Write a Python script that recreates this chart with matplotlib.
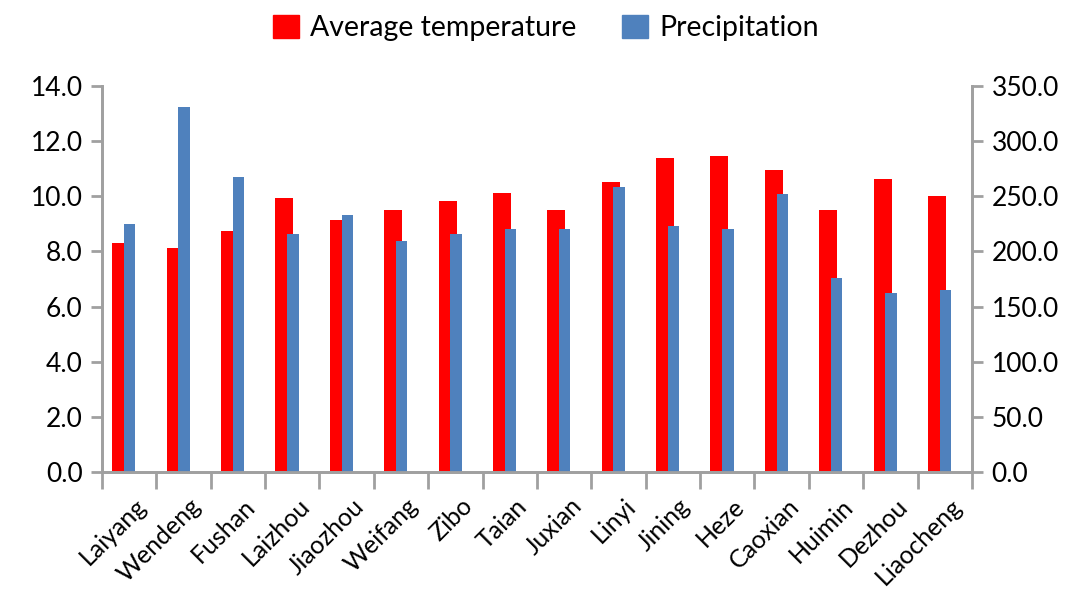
import numpy as np
import matplotlib
matplotlib.use("Agg")
import matplotlib.pyplot as plt
from matplotlib.patches import Patch
from matplotlib.ticker import FormatStrFormatter, FixedLocator

# stations and values
stations = ["Laiyang", "Wendeng", "Fushan", "Laizhou", "Jiaozhou", "Weifang",
            "Zibo", "Taian", "Juxian", "Linyi", "Jining", "Heze", "Caoxian",
            "Huimin", "Dezhou", "Liaocheng"]
avg_temp = [8.31, 8.14, 8.73, 9.93, 9.15, 9.49, 9.84, 10.11, 9.49, 10.53,
            11.38, 11.46, 10.95, 9.49, 10.62, 10.02]
precip = [224.6, 331.2, 267.2, 216.1, 233.3, 209.4, 216.1, 220.0, 220.0,
          258.7, 222.7, 220.0, 252.4, 175.6, 162.6, 164.7]

plt.rcParams['font.family'] = ['Lato', 'DejaVu Sans']
RED = "#FF0000"
BLUE = "#4F81BD"
GRAY = "#A0A0A0"
FS = 19

fig = plt.figure(figsize=(10.77, 6.15), dpi=100)
ax = fig.add_axes([0.0947, 0.2325, 0.8078, 0.6275])
ax2 = ax.twinx()

x = np.arange(len(stations))
ax.bar(x - 0.145, avg_temp, width=0.33, color=RED, zorder=2)
ax2.bar(x + 0.01, precip, width=0.21, color=BLUE, zorder=2)

ax.set_xlim(-0.5, len(stations) - 0.5)
ax.set_ylim(0, 14)
ax2.set_ylim(0, 350)
ax.set_yticks(np.arange(0, 14.1, 2))
ax2.set_yticks(np.arange(0, 351, 50))
ax.yaxis.set_major_formatter(FormatStrFormatter('%.1f'))
ax2.yaxis.set_major_formatter(FormatStrFormatter('%.1f'))

# category labels centred, ticks on the boundaries
ax.set_xticks(x + 0.1)
ax.set_xticklabels(stations, rotation=45, ha='right', rotation_mode='anchor',
                   fontsize=18)
ax.tick_params(axis='x', which='major', length=0, pad=16)
ax.xaxis.set_minor_locator(FixedLocator(np.arange(-0.5, len(stations), 1)))
ax.tick_params(axis='x', which='minor', length=12, width=2, color=GRAY,
               direction='out')

ax.tick_params(axis='y', length=8, width=2, color=GRAY, labelsize=FS, pad=6)
ax2.tick_params(axis='y', length=8, width=2, color=GRAY, labelsize=FS, pad=6)

for a in (ax, ax2):
    a.spines['top'].set_visible(False)
    for s in ('left', 'right', 'bottom'):
        a.spines[s].set_color(GRAY)
        a.spines[s].set_linewidth(2)

handles = [Patch(color=RED, label="Average temperature"),
           Patch(color=BLUE, label="Precipitation")]
fig.legend(handles=handles, loc='upper center', bbox_to_anchor=(0.507, 1.018),
           ncol=2, frameon=False, fontsize=20.5, handlelength=0.9,
           handleheight=0.9, columnspacing=1.6, handletextpad=0.4)

fig.savefig("out.png", dpi=100)
